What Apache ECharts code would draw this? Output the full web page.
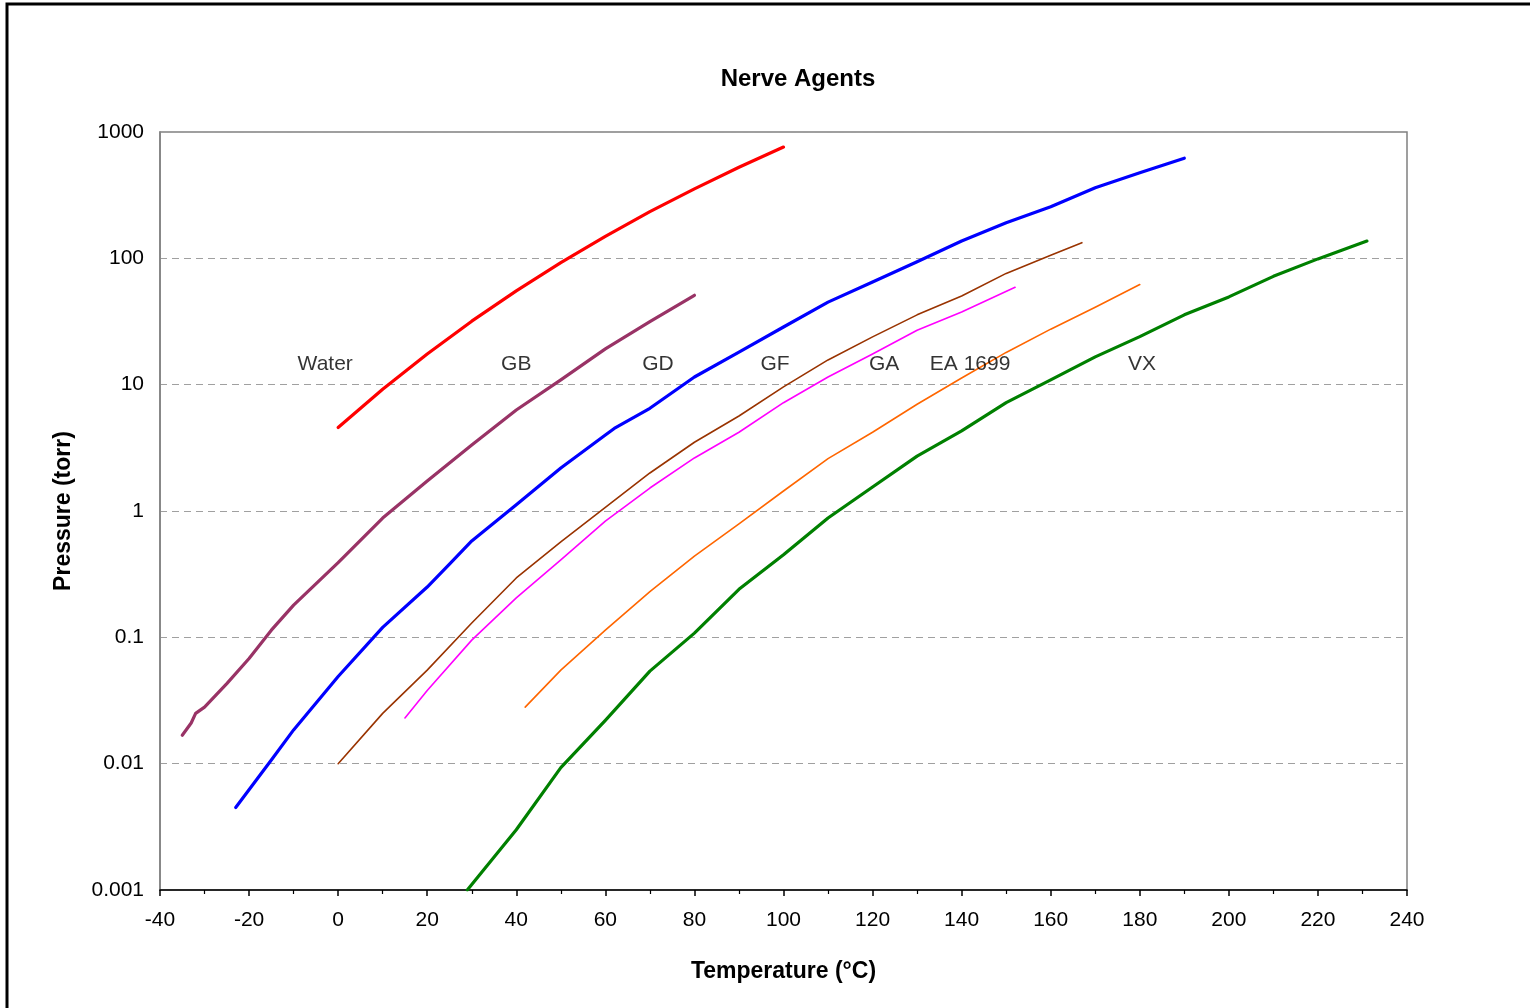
<!DOCTYPE html>
<html>
<head>
<meta charset="utf-8">
<script src="https://cdn.jsdelivr.net/npm/echarts@6/dist/echarts.min.js"></script>
<style>
html,body{margin:0;padding:0;background:#fff;}
#chart{width:1530px;height:1008px;}
</style>
</head>
<body>
<div id="chart"></div>
<script>
// ---- Data (temperature °C, vapour pressure torr) ----
const waterT = [0, 10, 20, 30, 40, 50, 60, 70, 80, 90, 100];
const waterP = [4.58, 9.2, 17.5, 31.8, 55.3, 92.5, 149, 234, 355, 526, 760];

const gbT = [-35, -33, -32, -30, -25, -20, -15, -10, 0, 10, 20, 30, 40, 50, 60, 70, 80];
const gbP = [0.0168, 0.021, 0.025, 0.028, 0.043, 0.068, 0.114, 0.18, 0.39, 0.88, 1.73, 3.33, 6.3, 10.9, 19.2, 31.5, 51];

const gdT = [-23, -15, -10, 0, 10, 20, 25, 30, 40, 50, 60, 62, 70, 80, 90, 100, 110, 120, 130, 140, 150, 160, 170, 180, 190];
const gdP = [0.0045, 0.0107, 0.0185, 0.049, 0.12, 0.25, 0.38, 0.58, 1.12, 2.19, 4.0, 4.5, 6.5, 11.5, 18.1, 28.6, 45, 65, 94, 137, 191, 256, 362, 475, 620];

const gfT = [0, 10, 20, 30, 40, 50, 60, 70, 80, 90, 100, 110, 120, 130, 140, 150, 160, 167];
const gfP = [0.01, 0.025, 0.055, 0.13, 0.295, 0.57, 1.07, 2.0, 3.5, 5.65, 9.6, 15.7, 23.9, 35.7, 50.4, 76, 106, 133];

const gaT = [15, 20, 30, 40, 50, 60, 70, 80, 90, 100, 110, 120, 130, 140, 152];
const gaP = [0.023, 0.038, 0.095, 0.205, 0.41, 0.83, 1.52, 2.63, 4.2, 7.2, 11.5, 17.5, 27, 37.6, 59];

const eaT = [42, 50, 60, 70, 80, 90, 100, 110, 120, 130, 140, 150, 160, 170, 180];
const eaP = [0.028, 0.055, 0.114, 0.23, 0.44, 0.79, 1.44, 2.6, 4.2, 7.0, 11.3, 18, 27.5, 41, 62];

const vxT = [29, 40, 50, 60, 70, 80, 90, 100, 110, 120, 130, 140, 150, 160, 170, 180, 190, 200, 210, 220, 231];
const vxP = [0.001, 0.003, 0.0093, 0.022, 0.054, 0.108, 0.24, 0.45, 0.88, 1.55, 2.72, 4.3, 7.2, 10.9, 16.6, 24, 35.7, 49.5, 72, 99, 137];

// curve labels
const labelNames = ['Water', 'GB', 'GD', 'GF', 'GA', 'EA 1699', 'VX'];
const labelT = [-2.9, 40, 71.8, 98.1, 122.6, 141.9, 180.5];
const labelP = [14.5, 14.5, 14.5, 14.5, 14.5, 14.5, 14.5];

// axis ticks
const xMin = -40, xMax = 240, xStep = 20;
const yMin = 0.001, yMax = 1000;

const FONT = '"Liberation Sans", Arial, sans-serif';

function zip(a, b) { return a.map((v, i) => [v, b[i]]); }

function lineSeries(name, T, P, color, width) {
  return {
    name: name,
    type: 'line',
    data: zip(T, P),
    showSymbol: false,
    symbol: 'none',
    smooth: false,
    lineStyle: { color: color, width: width, cap: 'round', join: 'round' },
    itemStyle: { color: color },
    z: 3
  };
}

const chart = echarts.init(document.getElementById('chart'), null, { renderer: 'canvas' });

chart.setOption({
  backgroundColor: '#ffffff',
  animation: false,
  title: {
    text: 'Nerve Agents',
    left: 793,
    top: 62,
    textAlign: 'center',
    textStyle: { fontFamily: FONT, fontSize: 24, fontWeight: 'bold', color: '#000' }
  },
  graphic: [{
    type: 'rect',
    shape: { x: 7, y: 4, width: 1600, height: 1100 },
    style: { fill: 'none', stroke: '#000', lineWidth: 3 },
    silent: true,
    z: 100
  }],
  grid: {
    left: 160, right: 123, top: 132, bottom: 118,
    show: true, borderColor: '#808080', borderWidth: 1.5, backgroundColor: 'transparent'
  },
  xAxis: {
    type: 'value',
    min: xMin, max: xMax, interval: xStep,
    name: 'Temperature (°C)',
    nameLocation: 'middle',
    nameGap: 70,
    nameTextStyle: { fontFamily: FONT, fontSize: 23, fontWeight: 'bold', color: '#000' },
    axisLine: { show: true, onZero: false, lineStyle: { color: '#000', width: 1.5 } },
    axisTick: { show: true, inside: false, length: 6, lineStyle: { color: '#000', width: 1.5 } },
    minorTick: { show: true, splitNumber: 2, length: 4, lineStyle: { color: '#000', width: 1.2 } },
    axisLabel: { fontFamily: FONT, fontSize: 21, color: '#000', margin: 20 },
    splitLine: { show: false }
  },
  yAxis: {
    type: 'log',
    logBase: 10,
    min: yMin, max: yMax,
    name: 'Pressure (torr)',
    nameLocation: 'middle',
    nameGap: 85,
    nameRotate: 90,
    nameTextStyle: { fontFamily: FONT, fontSize: 23, fontWeight: 'bold', color: '#000' },
    axisLine: { show: true, onZero: false, lineStyle: { color: '#808080', width: 1.5 } },
    axisTick: { show: false },
    axisLabel: {
      fontFamily: FONT, fontSize: 21, color: '#000', margin: 16,
      formatter: function (v) {
        const e = Math.round(Math.log10(v));
        return e < 0 ? Math.pow(10, e).toFixed(-e) : String(Math.round(Math.pow(10, e)));
      }
    },
    splitLine: { show: true, lineStyle: { color: '#a0a0a0', width: 1, type: [7, 5] } }
  },
  series: [
    lineSeries('Water', waterT, waterP, '#FF0000', 3.2),
    lineSeries('GB', gbT, gbP, '#993366', 3.2),
    lineSeries('GD', gdT, gdP, '#0000FF', 3.2),
    lineSeries('GF', gfT, gfP, '#993300', 1.6),
    lineSeries('GA', gaT, gaP, '#FF00FF', 1.6),
    lineSeries('EA 1699', eaT, eaP, '#FF6600', 1.6),
    lineSeries('VX', vxT, vxP, '#008000', 3.2),
    {
      name: 'labels',
      type: 'scatter',
      symbolSize: 0,
      data: labelNames.map((n, i) => [labelT[i], labelP[i], n]),
      label: {
        show: true,
        position: 'inside',
        formatter: p => p.data[2],
        fontFamily: FONT, fontSize: 21, color: '#000'
      },
      silent: true,
      z: 5
    }
  ]
});
</script>
</body>
</html>
